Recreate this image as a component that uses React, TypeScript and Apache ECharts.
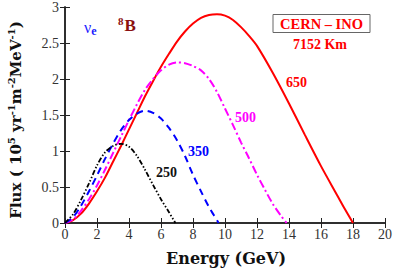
import React, { useEffect, useRef } from "react";
import * as echarts from "echarts";

const xTicks = [0, 2, 4, 6, 8, 10, 12, 14, 16, 18, 20];
const yTicks = [0, 0.5, 1, 1.5, 2, 2.5, 3];

const energy650 = [0, 0.5, 1, 1.5, 2, 2.5, 3, 3.5, 4, 4.5, 5, 5.5, 6, 6.5, 7, 7.5, 8, 8.5, 9, 9.5, 10, 10.5, 11, 11.5, 12, 13, 14, 15, 16, 17, 17.5, 18];
const flux650 = [0, 0.04, 0.13, 0.27, 0.44, 0.63, 0.85, 1.07, 1.3, 1.53, 1.76, 1.97, 2.17, 2.35, 2.52, 2.66, 2.77, 2.85, 2.89, 2.9, 2.88, 2.82, 2.72, 2.6, 2.46, 2.08, 1.66, 1.22, 0.79, 0.39, 0.19, 0];

const energy500 = [0, 0.5, 1, 1.5, 2, 2.5, 3, 3.5, 4, 4.5, 5, 5.5, 6, 6.5, 7, 7.5, 8, 8.5, 9, 9.5, 10, 10.5, 11, 11.5, 12, 12.5, 13, 13.5, 13.85];
const flux500 = [0, 0.05, 0.17, 0.33, 0.52, 0.74, 0.97, 1.2, 1.43, 1.65, 1.85, 2.0, 2.12, 2.2, 2.23, 2.22, 2.18, 2.12, 2.0, 1.82, 1.59, 1.36, 1.12, 0.9, 0.67, 0.46, 0.26, 0.1, 0];

const energy350 = [0, 0.5, 1, 1.5, 2, 2.5, 3, 3.5, 4, 4.5, 5, 5.5, 6, 6.5, 7, 7.5, 8, 8.5, 9, 9.3, 9.6];
const flux350 = [0, 0.08, 0.24, 0.44, 0.66, 0.89, 1.1, 1.29, 1.43, 1.52, 1.56, 1.53, 1.45, 1.32, 1.15, 0.93, 0.67, 0.44, 0.22, 0.11, 0];

const energy250 = [0, 0.5, 1, 1.5, 2, 2.5, 3, 3.5, 4, 4.5, 5, 5.5, 6, 6.5, 6.9];
const flux250 = [0, 0.12, 0.32, 0.55, 0.8, 0.98, 1.07, 1.1, 1.06, 0.93, 0.74, 0.53, 0.33, 0.15, 0];

const seriesLabels = ["650", "500", "350", "250"];

const pairs = (xs: number[], ys: number[]) => xs.map((x, i) => [x, ys[i]]);

const SERIF = "'Liberation Serif', 'DejaVu Serif', serif";
const WIDE = "'DejaVu Serif', 'Liberation Serif', serif";

export default function App() {
  const ref = useRef<HTMLDivElement>(null);
  useEffect(() => {
    if (!ref.current) return;
    const chart = echarts.init(ref.current, null, { renderer: "svg" });
    const axisLine = { show: true, lineStyle: { color: "#222", width: 1.5 } };
    const tick = { show: true, inside: true, length: 5, lineStyle: { color: "#222", width: 1 } };
    const mkSeries = (name: string, xs: number[], ys: number[], color: string, type: any, width: number) => ({
      name,
      type: "line",
      data: pairs(xs, ys),
      smooth: 0.3,
      showSymbol: false,
      symbol: "none",
      lineStyle: { color, width, type },
      z: 3,
    });
    chart.setOption({
      animation: false,
      backgroundColor: "#fff",
      grid: { left: 65, right: 10, top: 3, bottom: 48, containLabel: false },
      xAxis: [
        {
          type: "value", min: 0, max: 20, interval: 2, position: "bottom",
          axisLine, axisTick: tick, splitLine: { show: false },
          axisLabel: { color: "#333", fontFamily: SERIF, fontSize: 14, margin: 4 },
        },
        {
          type: "value", min: 0, max: 20, interval: 2, position: "top",
          axisLine, axisTick: tick, splitLine: { show: false }, axisLabel: { show: false },
        },
      ],
      yAxis: [
        {
          type: "value", min: 0, max: 3, interval: 0.5, position: "left",
          axisLine, axisTick: tick, splitLine: { show: false },
          axisLabel: { color: "#333", fontFamily: SERIF, fontSize: 14, margin: 6 },
        },
        {
          type: "value", min: 0, max: 3, interval: 0.5, position: "right",
          axisLine, axisTick: tick, splitLine: { show: false }, axisLabel: { show: false },
        },
      ],
      series: [
        mkSeries(seriesLabels[0], energy650, flux650, "#ff0000", "solid", 2),
        mkSeries(seriesLabels[1], energy500, flux500, "#ff00ff", [8, 3, 2, 3], 2),
        mkSeries(seriesLabels[2], energy350, flux350, "#0000ff", [7, 5], 2),
        mkSeries(seriesLabels[3], energy250, flux250, "#000000", [5, 2, 1.5, 2, 1.5, 2], 1.8),
      ],
      graphic: [
        {
          type: "text", x: 16, y: 120, rotation: Math.PI / 2,
          style: {
            text: "{b|Flux ( 10}{s|5}{b| yr}{s|-1}{b|m}{s|-2}{b|MeV}{s|-1}{b|)}",
            align: "center", verticalAlign: "middle",
            rich: {
              b: { fontFamily: WIDE, fontWeight: "bold", fontSize: 15, fill: "#111", lineHeight: 20 },
              s: { fontFamily: WIDE, fontWeight: "bold", fontSize: 10, fill: "#111", verticalAlign: "top", lineHeight: 20, padding: [0, 0, 8, 0] },
            },
          },
        },
        {
          type: "text", x: 226, y: 258,
          style: {
            text: "Energy (GeV)", fontFamily: WIDE, fontWeight: "bold", fontSize: 16, fill: "#111",
            align: "center", verticalAlign: "middle",
          },
        },
        {
          type: "text", x: 84, y: 27,
          style: {
            text: "{n|ν}{e|e}",
            verticalAlign: "middle",
            rich: {
              n: { fontFamily: SERIF, fontSize: 16, fill: "#1a1aff" },
              e: { fontFamily: SERIF, fontWeight: "bold", fontSize: 12, fill: "#1a1aff", padding: [8, 0, 0, 0] },
            },
          },
        },
        {
          type: "text", x: 118, y: 25,
          style: {
            text: "{s|8}{b|B}",
            verticalAlign: "middle",
            rich: {
              s: { fontFamily: SERIF, fontWeight: "bold", fontSize: 11, fill: "#8b1010", padding: [0, 1, 8, 0] },
              b: { fontFamily: SERIF, fontWeight: "bold", fontSize: 17, fill: "#8b1010" },
            },
          },
        },
        {
          type: "rect", shape: { x: 273, y: 14.5, width: 97, height: 18 },
          style: { fill: "#fff", stroke: "#666", lineWidth: 1 },
        },
        {
          type: "text", x: 321.5, y: 24,
          style: {
            text: "CERN – INO", fontFamily: SERIF, fontWeight: "bold", fontSize: 14.5, fill: "#ff0000",
            align: "center", verticalAlign: "middle",
          },
        },
        {
          type: "text", x: 320, y: 44,
          style: {
            text: "7152 Km", fontFamily: SERIF, fontWeight: "bold", fontSize: 14, fill: "#ff0000",
            align: "center", verticalAlign: "middle",
          },
        },
        {
          type: "text", x: 286, y: 82,
          style: { text: seriesLabels[0], fontFamily: SERIF, fontWeight: "bold", fontSize: 14, fill: "#ff0000", verticalAlign: "middle" },
        },
        {
          type: "text", x: 235, y: 117,
          style: { text: seriesLabels[1], fontFamily: SERIF, fontWeight: "bold", fontSize: 14, fill: "#ff00ff", verticalAlign: "middle" },
        },
        {
          type: "text", x: 188, y: 151,
          style: { text: seriesLabels[2], fontFamily: SERIF, fontWeight: "bold", fontSize: 14, fill: "#0000ff", verticalAlign: "middle" },
        },
        {
          type: "text", x: 156, y: 172,
          style: { text: seriesLabels[3], fontFamily: SERIF, fontWeight: "bold", fontSize: 14, fill: "#111", verticalAlign: "middle" },
        },
      ],
    });
    return () => chart.dispose();
  }, []);
  return <div ref={ref} style={{ width: 395, height: 271, position: "absolute", left: 0, top: 0 }} />;
}
